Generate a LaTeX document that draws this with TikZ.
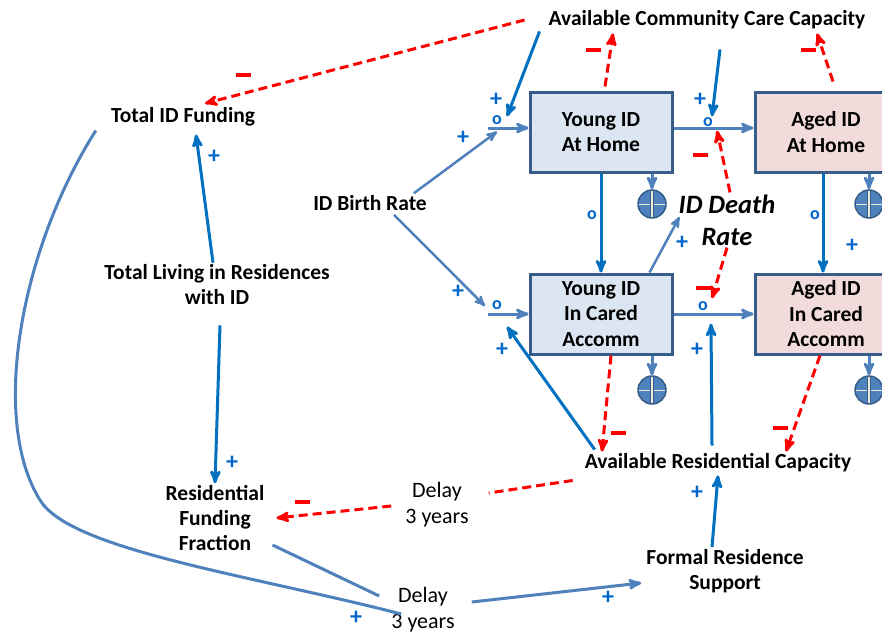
\documentclass[tikz,border=0pt]{standalone}
\usepackage{fontspec}
\setmainfont{Carlito}
\usetikzlibrary{arrows,positioning}

\definecolor{linkblue}{RGB}{0,112,192}
\definecolor{flowblue}{RGB}{79,129,189}
\definecolor{boxedge}{RGB}{56,93,138}
\definecolor{youngfill}{RGB}{220,230,242}
\definecolor{agedfill}{RGB}{242,220,219}
\definecolor{cream}{RGB}{238,234,222}
\definecolor{signblue}{RGB}{0,102,204}

\tikzset{
  var/.style={font=\fontsize{21.5}{25}\selectfont\bfseries, align=center, inner sep=2pt},
  delay/.style={font=\fontsize{22}{26}\selectfont, align=center, inner sep=2pt},
  stock/.style={draw=boxedge, line width=3pt, minimum width=142pt, minimum height=80pt,
    align=center, inner sep=2pt, font=\fontsize{21.5}{25.5}\selectfont\bfseries},
  valve/.style={text=signblue, font=\fontsize{18}{18}\selectfont\bfseries, inner sep=1pt},
  plus/.style={text=signblue, font=\fontsize{24}{24}\selectfont\bfseries, inner sep=0pt},
  minus/.style={fill=red, minimum width=15pt, minimum height=3.5pt, inner sep=0pt},
  sink/.style={circle, draw=boxedge, fill=flowblue, line width=1.5pt, minimum size=28pt,
    inner sep=0pt, path picture={
      \draw[line width=1pt, cream] (path picture bounding box.west) -- (path picture bounding box.east);
      \draw[line width=4pt, boxedge] (path picture bounding box.north) -- (path picture bounding box.south);
      \draw[line width=2pt, cream] (path picture bounding box.north) -- (path picture bounding box.south);}},
  flow/.style={->, flowblue, line width=3pt},
  poslink/.style={->, linkblue, line width=3pt},
  neglink/.style={->, red, line width=3pt, dash pattern=on 9pt off 5pt},
}

\begin{document}
\begin{tikzpicture}[x=1pt, y=-1pt, >=stealth', node distance=80pt]
  \clip (0,0) rectangle (882,634);
  \fill[white] (0,0) rectangle (882,634);

  % stocks
  \node[stock, fill=youngfill] (yh) at (601,132) {Young ID\\At Home};
  \node[stock, fill=agedfill] (ah) [right=of yh] {Aged ID\\At Home};
  \node[stock, fill=youngfill] (yc) at (601,314) {Young ID\\In Cared\\Accomm};
  \node[stock, fill=agedfill] (ac) [right=of yc] {Aged ID\\In Cared\\Accomm};

  % variables
  \node[var] (accc) at (707,20) {Available Community Care Capacity};
  \node[var] (tidf) at (183,117) {Total ID Funding};
  \node[var] (birth) at (370,203) {ID Birth Rate};
  \node[var] (tlr) at (217,285) {Total Living in Residences\\with ID};
  \node[var] (rff) at (215,518) {Residential\\Funding\\Fraction};
  \node[var] (arc) at (718,463) {Available Residential Capacity};
  \node[var] (frs) at (725,571) {Formal Residence\\Support};
  \node[var, font=\fontsize{26.5}{32}\selectfont\bfseries\itshape] (death) at (727,220) {ID Death\\Rate};
  \node[delay] (d1) at (437,505) {Delay\\3 years};
  \node[delay] (d2) at (423,610) {Delay\\3 years};

  % valves
  \node[valve] (v1) at (497,120) {o};
  \node[valve] (v2) at (708,122) {o};
  \node[valve] (v3) at (497,305) {o};
  \node[valve] (v4) at (703,306) {o};
  \node[valve] (v5) at (592,215) {o};
  \node[valve] (v6) at (815,215) {o};

  % sinks
  \node[sink] (s1) at (652,204) {};
  \node[sink] (s2) at (869,204) {};
  \node[sink] (s3) at (652,390) {};
  \node[sink] (s4) at (869,390) {};

  % flows
  \coordinate (yhin) at (488,128);
  \coordinate (ycin) at (488,314);
  \draw[flow] (yhin) -- (yhin -| yh.west);
  \draw[flow] (yh.east |- yhin) -- (ah.west |- yhin);
  \draw[flow] (ycin) -- (yc.west);
  \draw[flow] (yc.east) -- (ac.west);
  \draw[poslink] (yh.south) -- (yc.north);
  \draw[poslink] ([xshift=-3pt]ah.south) -- ([xshift=-3pt]ac.north);
  \draw[flow] (s1.north |- yh.south) -- (s1.north);
  \draw[flow] (s2.north |- ah.south) -- (s2.north);
  \draw[flow] (s3.north |- yc.south) -- (s3.north);
  \draw[flow] (s4.north |- ac.south) -- (s4.north);

  % links
  \draw[neglink] ([xshift=-22pt]accc.west) -- ([xshift=22pt,yshift=2pt]tidf.north);
  \draw[poslink] ([xshift=-7pt]accc.south west) -- ([xshift=4pt,yshift=-2pt]v1.north east);
  \draw[poslink] ([xshift=13pt,yshift=-18pt]accc.south) -- ([xshift=4pt]v2.north);
  \draw[neglink] ([xshift=4pt,yshift=4pt]yh.north) -- ([xshift=-94pt,yshift=-2pt]accc.south);
  \draw[neglink] ([xshift=7pt,yshift=9pt]ah.north) -- ([xshift=110pt,yshift=-2pt]accc.south);
  \draw[neglink] ([xshift=3pt]death.north) -- ([xshift=3pt,yshift=-3pt]v2.south east);
  \draw[neglink] (death.south) -- ([xshift=3pt,yshift=2pt]v4.north east);
  \draw[flow, line width=2.5pt] ([xshift=-24pt]yc.north east) -- ([xshift=3pt,yshift=3pt]death.west);
  \draw[flow, line width=2.5pt] ([xshift=-15pt]birth.north east) -- ([yshift=-6pt]v1.south);
  \draw[flow, line width=2.5pt] ([xshift=-35pt,yshift=-2pt]birth.south east) -- ([xshift=-6pt,yshift=-1pt]v3.west);
  \draw[poslink] ([xshift=-4pt]tlr.north) -- ([xshift=13pt,yshift=-6pt]tidf.south);
  \draw[poslink] ([xshift=3pt,yshift=-18pt]tlr.south) -- (rff.north);
  \draw[poslink] ([xshift=12pt,yshift=2pt]arc.north west) -- ([xshift=10pt,yshift=-16pt]v3.south);
  \draw[neglink] ([xshift=10pt]yc.south) -- ([xshift=-116pt]arc.north);
  \draw[neglink] ([xshift=-6pt]ac.south) -- ([xshift=68pt]arc.north);
  \draw[poslink] ([xshift=-6pt,yshift=6pt]arc.north) -- ([xshift=8pt,yshift=-12pt]v4.south);
  \draw[neglink, -] ([xshift=-10pt,yshift=-6pt]arc.south west) -- ([xshift=18pt,yshift=12pt]d1.east);
  \draw[neglink] ([xshift=-12pt,yshift=-1pt]d1.west) -- ([xshift=10pt,yshift=0pt]rff.east);
  \draw[flow, -] ([xshift=6pt,yshift=-27pt]rff.east) -- ([xshift=-10pt,yshift=14pt]d2.west);
  \draw[flow] ([xshift=15pt,yshift=8pt]d2.east) -- ([xshift=-3pt,yshift=-12pt]frs.west);
  \draw[flow, -] ([xshift=-13pt,yshift=-2pt]tidf.south west)
    .. controls (20,250) and (-10,420) .. (40,500)
    .. controls (70,550) and (250,575) .. ([xshift=12pt,yshift=-4pt]d2.west);
  \draw[poslink] ([xshift=-13pt]frs.north) -- ([yshift=-1pt]arc.south);

  % polarities
  \foreach \p in {(496,100),(700,100),(214,157),(463,138),(458,292),(682,243),(852,246),
                  (232,463),(502,350),(697,350),(697,493),(608,598),(356,618)}
    \node[plus] at \p {+};
  \foreach \p in {(243,75),(593,50),(808,50),(700,155),(703,288),(618,433),(780,428),(302,502)}
    \node[minus] at \p {};
\end{tikzpicture}
\end{document}
